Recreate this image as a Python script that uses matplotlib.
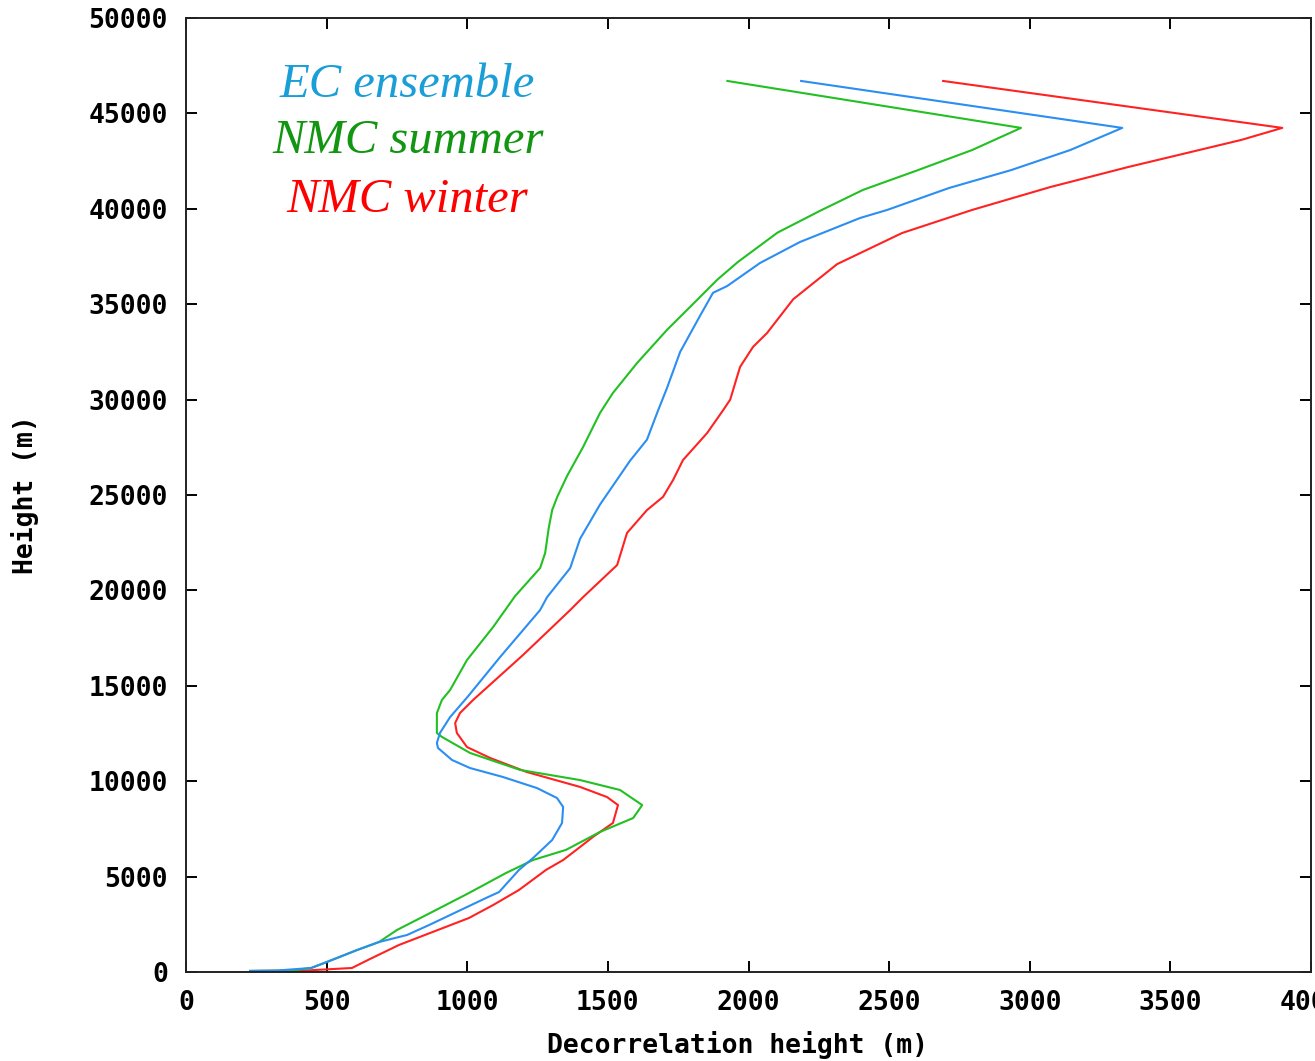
import matplotlib
matplotlib.use("Agg")
import matplotlib.pyplot as plt

# decorrelation height (m) against height (m) for each error model
ec_x = [228, 325, 445, 500, 608, 686, 786, 864, 1067, 1113, 1184, 1234, 1302,
        1337, 1341, 1319, 1248, 1127, 1010, 946, 896, 892, 903, 939, 1000,
        1117, 1259, 1284, 1366, 1401, 1472, 1579, 1639, 1675, 1710, 1757,
        1828, 1874, 1924, 2041, 2183, 2397, 2493, 2713, 2934, 3144, 3329, 2187]
ec_h = [60, 80, 210, 520, 1150, 1570, 1940, 2460, 3880, 4190, 5350, 5975, 6920,
        7810, 8650, 9120, 9640, 10220, 10690, 11110, 11740, 12000, 12530, 13360, 14400,
        16510, 18970, 19650, 21170, 22700, 24500, 26800, 27900, 29300, 30600, 32500,
        34400, 35600, 35950, 37160, 38260, 39520, 39940, 41090, 42030, 43080, 44240, 46700]

summer_x = [228, 370, 445, 500, 608, 686, 750, 889, 1006, 1138, 1234, 1351, 1472,
            1590, 1622, 1543, 1401, 1188, 1010, 910, 892, 892, 910, 939, 999,
            1092, 1170, 1259, 1277, 1290, 1302, 1320, 1355, 1412, 1472, 1518,
            1604, 1710, 1817, 1888, 1962, 2103, 2255, 2407, 2603, 2795, 2969, 1925]
summer_h = [55, 70, 210, 520, 1150, 1570, 2200, 3250, 4140, 5190, 5870, 6400, 7340,
            8070, 8750, 9540, 10060, 10590, 11480, 12320, 12530, 13570, 14260, 14780, 16350,
            18080, 19700, 21170, 21960, 23300, 24210, 24900, 26000, 27520, 29300, 30350,
            31920, 33650, 35220, 36270, 37210, 38750, 39900, 40990, 42030, 43080, 44240, 46700]

winter_x = [228, 416, 590, 647, 757, 1006, 1092, 1184, 1280, 1341, 1387, 1447, 1518,
            1536, 1497, 1401, 1212, 1081, 999, 963, 957, 974, 1021, 1198, 1366,
            1412, 1533, 1568, 1639, 1696, 1732, 1767, 1853, 1910, 1935, 1959, 1970,
            2016, 2066, 2159, 2315, 2546, 2795, 3073, 3350, 3557, 3752, 3898, 2692]
winter_h = [50, 70, 210, 630, 1415, 2830, 3510, 4300, 5350, 5870, 6390, 7080, 7810,
            8750, 9170, 9700, 10480, 11220, 11790, 12530, 13050, 13570, 14260, 16610, 18970,
            19650, 21330, 23010, 24210, 24900, 25790, 26830, 28250, 29450, 30000, 31180, 31710,
            32760, 33490, 35260, 37100, 38730, 39940, 41140, 42190, 42920, 43610, 44240, 46700]

names = ["EC ensemble", "NMC summer", "NMC winter"]
line_colors = ["#2b8ef2", "#22c022", "#ff2222"]
text_colors = ["#1a9ed8", "#129612", "#ff0000"]

x_ticks = [0, 500, 1000, 1500, 2000, 2500, 3000, 3500, 4000]
y_ticks = [0, 5000, 10000, 15000, 20000, 25000, 30000, 35000, 40000, 45000, 50000]

fig = plt.figure(figsize=(13.15, 10.61), dpi=100)
ax = fig.add_axes([186 / 1315, 89 / 1061, 1125 / 1315, 954 / 1061])

ax.plot(winter_x, winter_h, color=line_colors[2], lw=1.5)
ax.plot(summer_x, summer_h, color=line_colors[1], lw=1.5)
ax.plot(ec_x, ec_h, color=line_colors[0], lw=1.5)

ax.set_xlim(0, 4000)
ax.set_ylim(0, 50000)
ax.set_xticks(x_ticks)
ax.set_yticks(y_ticks)

tick_font = dict(family="DejaVu Sans Mono", weight="bold", size=19)
ax.set_xticklabels([str(v) for v in x_ticks], fontdict=tick_font)
ax.set_yticklabels([str(v) for v in y_ticks], fontdict=tick_font)
ax.tick_params(direction="in", length=8, width=1.4, top=True, right=True, pad=13)
for s in ax.spines.values():
    s.set_linewidth(1.4)
    s.set_color("#222222")

ax.set_xlabel("Decorrelation height (m)", fontdict=tick_font)
ax.xaxis.set_label_coords(0.49, -0.077)
ax.xaxis.label.set_va("center")
ax.set_ylabel("Height (m)", fontdict=tick_font)
ax.yaxis.set_label_coords(-0.143, 0.5)
ax.yaxis.label.set_va("center")

# legend written as coloured italic text
for i, yy in enumerate([0.930, 0.871, 0.809]):
    ax.text(0.197, yy, names[i], transform=ax.transAxes, ha="center", va="center",
            color=text_colors[i], fontsize=35, family="Liberation Serif", style="italic")

fig.savefig("out.png", dpi=100)
